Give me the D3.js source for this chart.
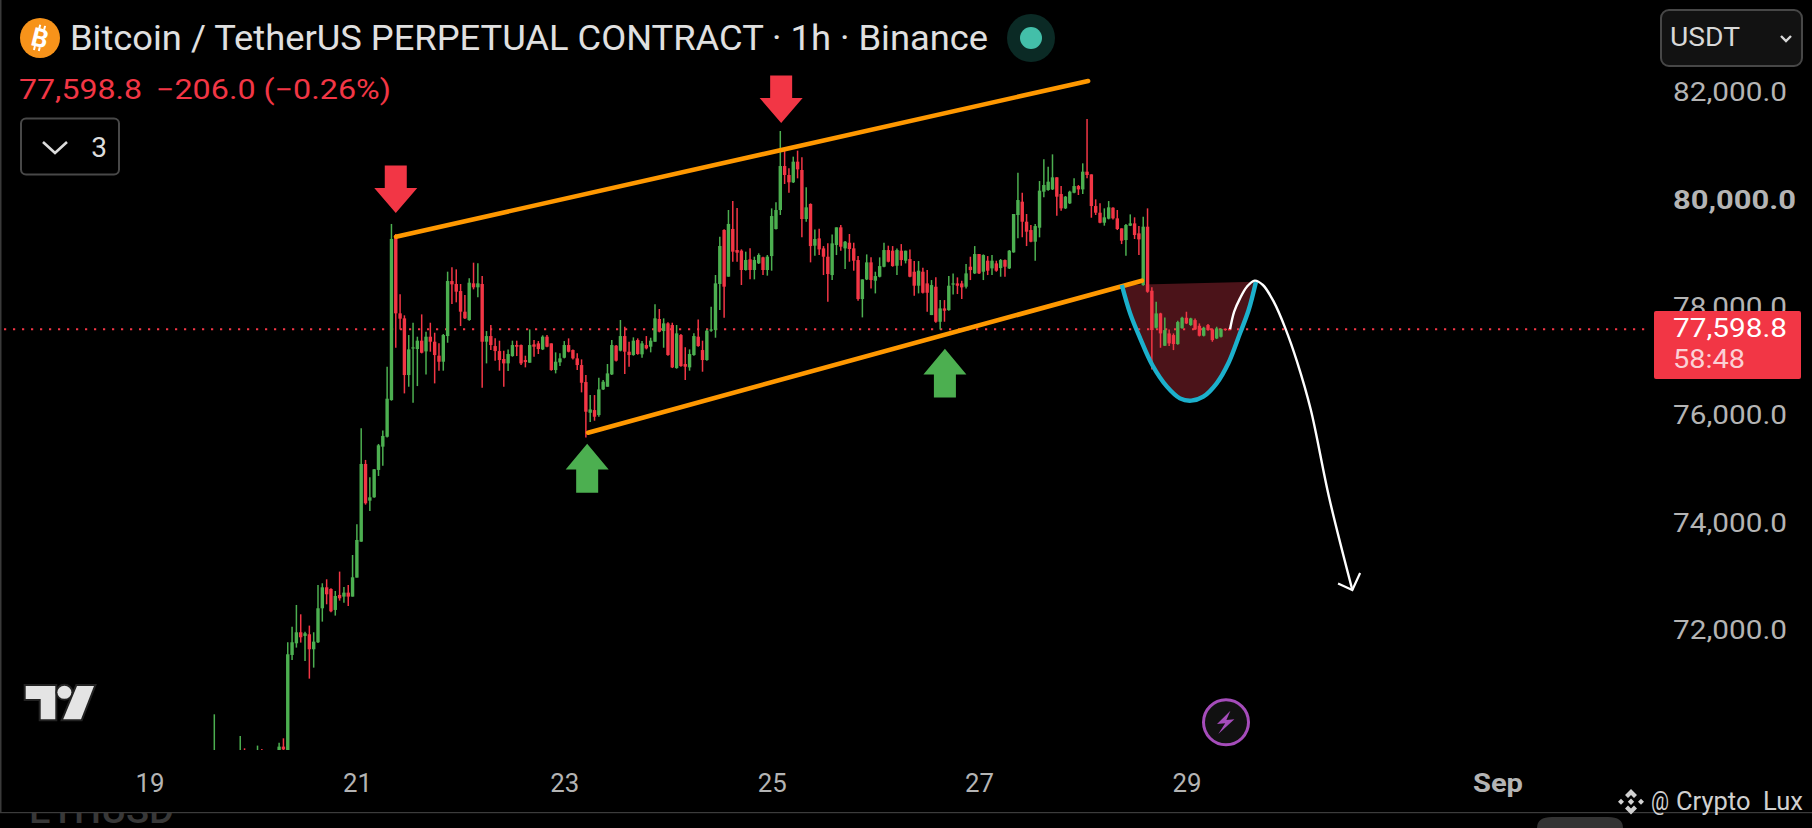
<!DOCTYPE html>
<html>
<head>
<meta charset="utf-8">
<script src="https://cdn.jsdelivr.net/npm/d3@7"></script>
<style>
  html, body { margin: 0; padding: 0; background: #000; overflow: hidden; }
  text { font-family: Roboto, Inter, sans-serif; }
</style>
</head>
<body>
<div id="root"></div>
<script>
// hours counted from 19 Aug 00:00, candles before hour 32 are mostly under the visible area
var earlyHours = [15, 21, 22, 25, 26, 30, 31];
var hours = earlyHours.concat(d3.range(32, 251));

var open = [69500,69500,69700,69500,69700,69700,69841,69700,
  71545,71762,71967,71899,71930,71651,71781,72413,72803,72772,72382,72661,72630,72704,72630,72983,73652,75096,74414,74476,74985,75418,
  75602,76284,79310,77896,77803,76749,77245,77233,77388,77189,77462,77369,77109,76997,77474,78497,78442,78311,77927,77772,78454,78380,78442,77369,77474,
  77288,77195,77047,76966,77102,77307,77307,77028,76978,77319,77338,77226,77462,77338,76842,76985,77071,77307,77214,77059,76935,76619,76048,76098,76005,
  76482,76532,76761,77295,77202,77474,77183,77121,77400,77134,77307,77276,77369,77791,77567,77710,77679,76879,77493,76954,76892,77121,77462,77214,77028,
  77574,77586,78442,79446,78578,79465,79074,79062,78702,78900,78702,78826,78938,78702,
  78961,79464,79817,80635,80468,80332,80716,80561,79650,79929,79154,79290,79104,78949,78608,79166,79495,79104,79209,79104,78887,78162,78527,78844,78503,
  78577,78763,79073,79061,78781,79061,78875,78906,78670,78410,78670,78453,77864,78391,77740,77988,77957,78434,78453,78453,78391,78763,78639,78999,78670,
  78875,78732,78825,78738,78887,78732,79030,79724,79972,79600,79445,79228,79488,80158,80189,80201,80425,80115,79848,79941,80139,80263,80201,80530,80480,
  79891,79767,79581,79656,79860,79662,79476,79259,79526,79569,79383,78422,79507,78317,77628,77895,77294,77523,77492,77325,77622,77814,77678,77771,77665,
  77480,77678,77597,77430,77461,77610,77604];

var high = [70442,70039,69810,69860,69798,69915,69996,71781,
  72072,72475,72301,71979,72091,71967,72847,72878,72952,72785,72735,73095,72810,72847,73404,73974,75759,75171,74848,75003,75468,75716,
  76904,79558,79372,78249,77859,77493,77722,77462,77877,77555,77722,77536,77338,77512,78671,78752,78714,78442,78237,78547,78838,78826,78590,77567,77679,
  77431,77388,77202,77226,77388,77388,77319,77109,77598,77400,77381,77487,77493,77338,77171,77152,77381,77431,77226,77152,77040,76749,76377,76377,76699,
  76656,76954,77400,77307,77772,77648,77369,77450,77431,77381,77474,77443,78063,77977,77803,77729,77722,77679,77512,77264,77226,77524,77784,77388,77598,
  78020,78609,79322,79458,79818,79985,79855,79086,79043,79105,78950,79012,78950,78981,
  79848,79960,81286,80933,80592,80809,80921,80797,80239,79941,79457,79470,79147,79197,79364,79495,79538,79240,79371,79209,78961,78527,78992,78937,78670,
  78937,79209,79154,79147,79104,79184,79061,79085,78868,78868,78744,78701,78515,78565,78143,78143,78589,78639,78565,78503,78813,78949,79147,78999,78992,
  78961,78980,78875,78906,78899,79073,79743,80511,80139,79743,79538,79557,80356,80759,80623,80852,80425,80263,80077,80177,80406,80282,80685,81510,80480,
  80015,79941,79848,79984,79867,79817,79476,79557,79736,79681,79519,79693,79848,78379,78112,77907,77820,77597,77523,77759,77833,77926,77814,77802,77709,
  77647,77697,77616,77647,77616,77616,77604];

var low = [69400,69400,69300,69400,69400,69600,69700,69600,
  71452,71682,71775,71434,71105,71310,71768,72165,72487,72338,72277,72555,72518,72456,72630,72983,73652,74340,74222,74470,74873,75065,
  75590,76272,77257,77598,76408,76532,76234,76544,77152,76761,77183,76594,76830,76830,77350,78070,78101,77660,77791,77760,78342,78194,76513,76966,77214,
  77016,76830,76532,76823,77090,77102,76935,76892,76978,77090,77140,77214,77264,76830,76780,76916,77059,77171,77040,76842,76427,75590,75875,75900,75974,
  76470,76532,76749,77003,77189,76768,76904,77109,77127,77071,77226,77171,77369,77543,77257,77109,76879,76867,76904,76656,76830,77109,77276,76811,77016,
  77555,77443,77958,77815,78578,78857,78857,78423,78690,78528,78528,78814,78609,78597,
  78689,79457,79724,80301,80139,80319,80406,79309,79600,78844,78968,78980,78608,78112,78515,78980,79061,78720,78856,78689,78131,77821,78515,78360,78267,
  78565,78751,78844,78763,78608,78781,78825,78565,78224,78267,78267,77926,77864,77721,77597,77740,77945,78248,78255,78162,78360,78515,78627,78627,78515,
  78608,78608,78670,78577,78577,78720,79023,79290,79309,79147,79216,78875,79309,80053,80177,80189,79712,79805,79836,79929,80127,80096,80115,80406,79674,
  79724,79569,79526,79643,79643,79445,79184,78968,79519,79278,78980,78410,78279,76853,77616,77256,77287,77287,77213,77312,77610,77697,77665,77585,77467,
  77467,77572,77368,77418,77449,77572,77590];

var close = [69650,69700,69500,69700,69550,69841,69790,71558,
  71781,71967,71874,71948,71651,71793,72413,72803,72673,72357,72642,72599,72704,72630,72989,73683,75096,74365,74476,74997,75443,75617,
  76309,79279,77896,77797,76749,77226,77264,77388,77164,77462,77369,77121,76997,77493,78497,78435,78299,77927,77803,78466,78380,78454,77369,77474,77307,
  77195,77028,76966,77140,77307,77276,76966,76991,77307,77276,77233,77462,77276,76842,76997,77059,77307,77183,77059,76935,76606,76067,76110,75974,76482,
  76625,76780,77307,77016,77474,77183,77121,77388,77140,77338,77245,77388,77803,77555,77710,77121,76892,77524,76916,76904,77140,77474,77288,77028,77574,
  77598,78454,79148,78392,79558,79043,79024,78702,78888,78702,78888,78981,78702,78950,
  79705,79817,80635,80468,80332,80716,80573,79650,79867,79147,79278,79085,78949,78627,79197,79495,79135,79228,79092,78875,78162,78527,78844,78515,78589,
  78775,79073,78856,78775,79073,78887,79061,78577,78410,78689,78279,78279,78422,77740,77988,77945,78410,78453,78410,78379,78639,78701,78999,78639,78980,
  78689,78875,78689,78887,78763,79061,79743,80003,79600,79414,79228,79519,80177,80282,80344,80425,80065,79848,80065,80158,80263,80201,80530,80468,79891,
  79767,79581,79681,79867,79662,79464,79247,79538,79569,79352,79271,79507,78298,77585,77895,77523,77585,77337,77325,77734,77814,77709,77802,77597,77480,
  77628,77585,77399,77616,77604,77585,77598.8];

// axis labels
var priceTicks = [82000, 80000, 78000, 76000, 74000, 72000];
var dayTicks = [0, 48, 96, 144, 192, 240, 312];
var dayLabels = ["19", "21", "23", "25", "27", "29", "Sep"];
var lastPrice = 77598.8;

// drawings on the chart, as [hour, price]
var upperChannel = [[57.06, 79321], [217.25, 82216]];
var lowerChannel = [[101.5, 75678], [229.7, 78503]];
var cupCurve = [[225.05, 78423], [226.97, 77896], [229.3, 77431], [232.1, 76936], [235.5, 76533], [238.5, 76316], [241.1, 76273],
  [243.9, 76347], [247, 76595], [249.7, 76967], [252.4, 77525], [254.4, 77958], [256.1, 78485]];
var forecast = [[250.1, 77599], [251.05, 77927], [252.4, 78175], [254, 78392], [255.8, 78504], [257.7, 78423], [260.2, 78113],
  [262.9, 77617], [265.6, 76998], [268.8, 76099], [273, 74482], [278.4, 72754]];
var forecastHead = [[275.1, 72873], [278.4, 72754], [280.2, 73070]];
var downArrows = [[57, 79762], [146.2, 81435]];
var upArrows = [[101.3, 75470], [184.1, 77240]];

var RED = "#f23645";
var GREEN = "#4caf50";
var AXIS = "#b4b4b4";
var width = 1812;
var height = 828;

var svg = d3.select("#root")
    .append("svg")
    .attr("width", width)
    .attr("height", height)
    .style("display", "block")
    .style("background", "#000");

var x = d3.scaleLinear().domain([0, 312]).range([149.5, 1497.5]);
var y = d3.scaleLinear().domain([82000, 72000]).range([92.6, 630.5]);

svg.append("defs").append("clipPath").attr("id", "plot")
    .append("rect").attr("x", 0).attr("y", 0).attr("width", 1652).attr("height", 750);
svg.select("defs").append("clipPath").attr("id", "strip")
    .append("rect").attr("x", 0).attr("y", 813).attr("width", width).attr("height", 15);

var line = d3.line().x(function (d) { return x(d[0]); }).y(function (d) { return y(d[1]); });

// the source font is wider than anything installed, so widths are pinned to the picture
function label(txt, xPos, yPos, size, fill, len) {
    return svg.append("text").attr("x", xPos).attr("y", yPos).attr("font-size", size).attr("fill", fill)
        .attr("textLength", len).attr("lengthAdjust", "spacingAndGlyphs").style("white-space", "pre").text(txt);
}

// window edge and the strip under the chart
svg.append("rect").attr("x", 0).attr("y", 0).attr("width", 1.5).attr("height", 813).attr("fill", "#3a3a3a");
svg.append("rect").attr("x", 0).attr("y", 812).attr("width", width).attr("height", 1.2).attr("fill", "#3c3c3c");
svg.append("text").attr("x", 29).attr("y", 823).attr("clip-path", "url(#strip)")
    .attr("font-size", 36).attr("font-weight", 500).attr("fill", "#383838")
    .attr("textLength", 145).attr("lengthAdjust", "spacingAndGlyphs").text("ETHUSD");
svg.append("path").attr("d", "M1537 828 Q1537 817 1552 817 H1608 Q1623 817 1623 828 Z").attr("fill", "#333");

var plot = svg.append("g").attr("clip-path", "url(#plot)");

// cup fill goes under the candles
plot.append("path").attr("d", line(cupCurve.concat([cupCurve[0]])))
    .attr("fill", "#4b1319").attr("stroke", "none");

// last price line
plot.append("line")
    .attr("x1", 4).attr("x2", 1650)
    .attr("y1", y(lastPrice)).attr("y2", y(lastPrice))
    .attr("stroke", RED).attr("stroke-width", 2).attr("stroke-dasharray", "2.2 6.8");

// candles
var idx = d3.range(hours.length);
function candleColor(i) { return close[i] >= open[i] ? GREEN : RED; }

plot.append("g").selectAll("line").data(idx).join("line")
    .attr("x1", function (i) { return x(hours[i]); })
    .attr("x2", function (i) { return x(hours[i]); })
    .attr("y1", function (i) { return y(high[i]); })
    .attr("y2", function (i) { return y(low[i]); })
    .attr("stroke", candleColor)
    .attr("stroke-width", 1.5);

plot.append("g").selectAll("rect").data(idx).join("rect")
    .attr("x", function (i) { return x(hours[i]) - 1.7; })
    .attr("width", 3.4)
    .attr("y", function (i) { return y(Math.max(open[i], close[i])); })
    .attr("height", function (i) { return Math.max(1.2, Math.abs(y(open[i]) - y(close[i]))); })
    .attr("fill", candleColor);

// channel lines
[upperChannel, lowerChannel].forEach(function (d) {
    plot.append("path").attr("d", line(d))
        .attr("fill", "none").attr("stroke", "#ff9800").attr("stroke-width", 4.6).attr("stroke-linecap", "round");
});

// cup outline
plot.append("path").attr("d", line.curve(d3.curveCatmullRom)(cupCurve))
    .attr("fill", "none").attr("stroke", "#1cb0cc").attr("stroke-width", 4.4);

// forecast path
plot.append("path").attr("d", line(forecast))
    .attr("fill", "none").attr("stroke", "#fff").attr("stroke-width", 2.4);
line.curve(d3.curveLinear);
plot.append("path").attr("d", line(forecastHead))
    .attr("fill", "none").attr("stroke", "#fff").attr("stroke-width", 2.2);

// arrow marks, shape is relative to the tip
var arrowShape = "M0 0 L-21.5 -25 H-11 V-47.5 H11 V-25 H21.5 Z";
plot.selectAll(".down").data(downArrows).join("path").attr("class", "down")
    .attr("d", arrowShape).attr("fill", RED)
    .attr("transform", function (d) { return "translate(" + x(d[0]) + "," + y(d[1]) + ")"; });
plot.selectAll(".up").data(upArrows).join("path").attr("class", "up")
    .attr("d", arrowShape).attr("fill", GREEN)
    .attr("transform", function (d) { return "translate(" + x(d[0]) + "," + y(d[1]) + ") scale(1,-1.03)"; });

// price axis
var yAxis = svg.append("g").attr("transform", "translate(1673,0)")
    .call(d3.axisRight(y).tickValues(priceTicks).tickSize(0).tickPadding(0).tickFormat(function (d) { return d3.format(",.1f")(d); }));
yAxis.select(".domain").remove();
yAxis.selectAll("text")
    .attr("font-size", 26).attr("fill", AXIS).attr("dy", "0.35em")
    .attr("transform", "translate(0,-1)")
    .attr("font-weight", function (d) { return d == 80000 ? 700 : 400; })
    .attr("textLength", function (d) { return d == 80000 ? 123 : 114; })
    .attr("lengthAdjust", "spacingAndGlyphs")
    .style("font-family", "Roboto, Inter, sans-serif");

// time axis
var xAxis = svg.append("g").attr("transform", "translate(0,783)")
    .call(d3.axisBottom(x).tickValues(dayTicks).tickSize(0).tickPadding(0).tickFormat(function (d, i) { return dayLabels[i]; }));
xAxis.select(".domain").remove();
xAxis.selectAll("text")
    .attr("y", 0).attr("dy", "0.36em")
    .attr("font-size", 26).attr("fill", AXIS)
    .attr("font-weight", function (d) { return d == 312 ? 700 : 400; })
    .attr("textLength", function (d) { return d == 312 ? 50 : 29; })
    .attr("lengthAdjust", "spacingAndGlyphs")
    .style("font-family", "Roboto, Inter, sans-serif");

// last price tag
svg.append("rect").attr("x", 1654).attr("y", 311).attr("width", 147).attr("height", 68).attr("rx", 2).attr("fill", RED);
label(d3.format(",.1f")(lastPrice), 1673, y(lastPrice) + 8, 26, "#fff", 114);
label("58:48", 1673, 368, 26, "#fbd0d5", 72);

// currency button
svg.append("rect").attr("x", 1661).attr("y", 10).attr("width", 141).attr("height", 56).attr("rx", 8)
    .attr("fill", "#121212").attr("stroke", "#474747").attr("stroke-width", 2);
label("USDT", 1670, 46, 26, "#d8d8d8", 70);
svg.append("path").attr("d", "M1781 36 L1786 41 L1791 36").attr("fill", "none").attr("stroke", "#d8d8d8").attr("stroke-width", 2.4);

// header
svg.append("circle").attr("cx", 40).attr("cy", 38).attr("r", 20).attr("fill", "#f7931a");
var coin = svg.append("g").attr("transform", "rotate(14 40 38)");
coin.append("text").attr("x", 40).attr("y", 47).attr("text-anchor", "middle")
    .attr("font-size", 26).attr("font-weight", 700).attr("fill", "#fff").text("B");
coin.append("path").attr("d", "M37 25 V29 M42 25 V29 M37 47 V51 M42 47 V51").attr("stroke", "#fff").attr("stroke-width", 2);

label("Bitcoin / TetherUS PERPETUAL CONTRACT · 1h · Binance", 70, 50, 35, "#e0e0e0", 918);
svg.append("circle").attr("cx", 1031).attr("cy", 38).attr("r", 24).attr("fill", "#0b2a25");
svg.append("circle").attr("cx", 1031).attr("cy", 38).attr("r", 11).attr("fill", "#43bfa9");

label("77,598.8", 19, 99, 27, RED, 123);
label("−206.0 (−0.26%)", 156, 99, 27, RED, 235);

// collapsed indicators button
svg.append("rect").attr("x", 21).attr("y", 118.5).attr("width", 98).attr("height", 56).attr("rx", 5)
    .attr("fill", "none").attr("stroke", "#484848").attr("stroke-width", 2);
svg.append("path").attr("d", "M43 142 L55 153 L67 142").attr("fill", "none").attr("stroke", "#dcdcdc").attr("stroke-width", 2.6);
svg.append("text").attr("x", 99).attr("y", 157).attr("text-anchor", "middle").attr("font-size", 28).attr("fill", "#dcdcdc").text("3");

// tradingview logo
var logo = svg.append("g").attr("fill", "#e4e4e4").attr("stroke", "#222").attr("stroke-width", 4).style("paint-order", "stroke");
logo.append("path").attr("d", "M25.7 686 H55.3 V719.3 H40.7 V699 H25.7 Z");
logo.append("ellipse").attr("cx", 64.4).attr("cy", 692.3).attr("rx", 7).attr("ry", 6.5);
logo.append("path").attr("d", "M77 686 H94 L81 719.3 H63.2 Z");

// lightning badge
svg.append("circle").attr("cx", 1226).attr("cy", 722.3).attr("r", 22.5)
    .attr("fill", "#111").attr("stroke", "#a54cba").attr("stroke-width", 3);
svg.append("path").attr("d", "M1230.4 710.7 L1217 724 L1225.2 723.3 L1218.3 734 L1234.4 719.3 L1226.4 720 Z").attr("fill", "#a54cba");

// watermark
svg.append("path").attr("fill", "#d0d0d0").attr("d", "M1631 789 L1637 795 L1634 798 L1631 795 L1628 798 L1625 795 Z M1631 814.5 L1625 808.5 L1628 805.5 L1631 808.5 L1634 805.5 L1637 808.5 Z M1631 798.5 L1634.2 801.7 L1631 805 L1627.8 801.7 Z M1621 798.7 L1624 801.7 L1621 804.7 L1618 801.7 Z M1641 798.7 L1644 801.7 L1641 804.7 L1638 801.7 Z");
label("@", 1651, 810, 25, "#d0d0d0", 18);
label("Crypto  Lux", 1676, 810, 25, "#d0d0d0", 127);
</script>
</body>
</html>
